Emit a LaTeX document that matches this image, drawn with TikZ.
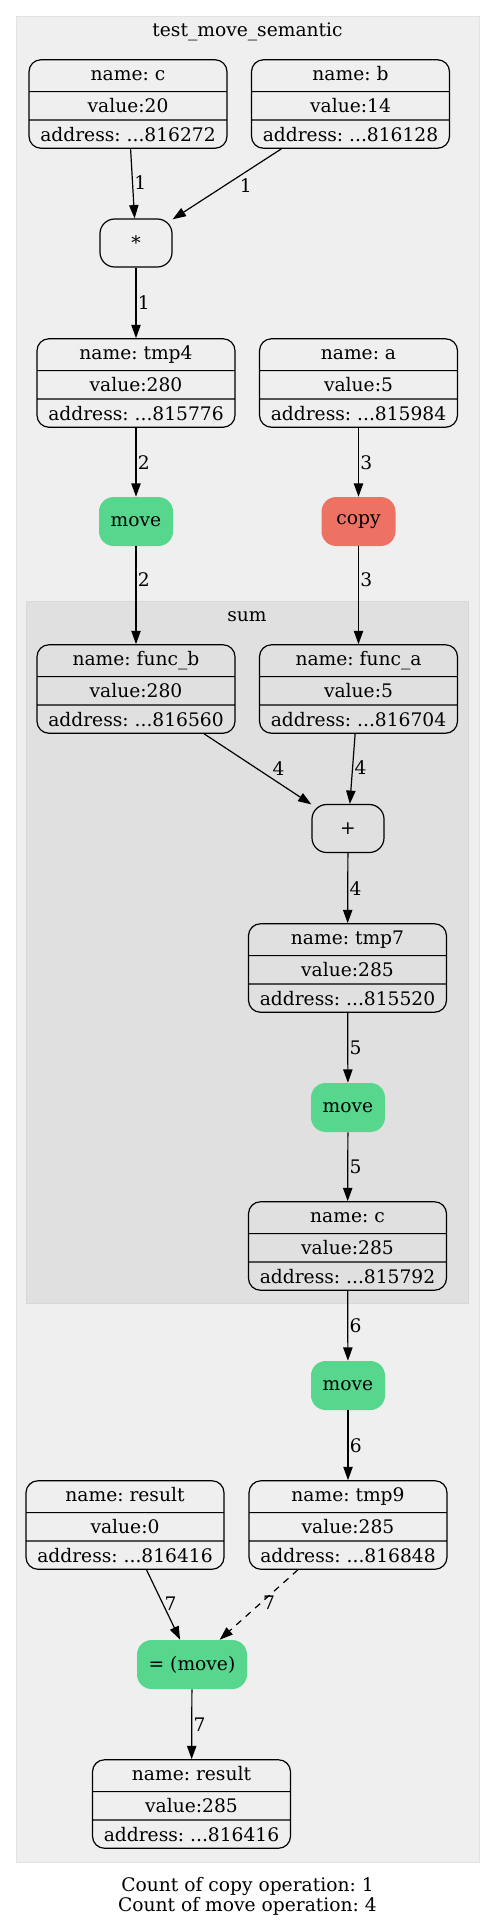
\documentclass[tikz,border=0pt]{standalone}
\usepackage{fontspec}
\setmainfont{DejaVu Serif}
\usetikzlibrary{shapes.multipart,arrows.meta}
\definecolor{outerbg}{HTML}{EFEFEF}
\definecolor{outerline}{HTML}{E2E2E2}
\definecolor{sumbg}{HTML}{E0E0E0}
\definecolor{sumline}{HTML}{D8D8D8}
\definecolor{movegreen}{HTML}{57D68D}
\definecolor{copyred}{HTML}{EE7264}
\frenchspacing

\begin{document}
\begin{tikzpicture}[x=0.75pt, y=-0.75pt,
  every node/.style={font=\fontsize{14pt}{16.8pt}\selectfont},
  varbox/.style={rectangle split, rectangle split parts=3, draw, line width=0.9pt,
    rounded corners=9pt, minimum width=148.5pt, text height=10.5pt, text depth=3pt, inner ysep=4.75pt},
  opbox/.style={draw, line width=0.9pt, rounded corners=11pt, minimum width=54pt, minimum height=36pt},
  movebox/.style={fill=movegreen, rounded corners=11pt, minimum width=55.5pt, minimum height=36.75pt},
  copybox/.style={movebox, fill=copyred},
  link/.style={-{Triangle[length=10pt,width=7pt]}, line width=0.9pt},
  lbl/.style={right, inner sep=1pt}]

\useasboundingbox (0,0) rectangle (495,1928);

% -------- clusters -----------
\filldraw[fill=outerbg, draw=outerline] (16,16) rectangle (479,1862);
\filldraw[fill=sumbg, draw=sumline] (26,601) rectangle (468,1303);
\node[anchor=base] (maintitle) at (247.5,36.5) {test\_move\_semantic};
\node[anchor=base] (sumtitle) at (247,621) {sum};

% -------- variables and operations -----------
\node[varbox] (c) at (128,104) {name: c \nodepart{two} value:20 \nodepart{three} address: ...816272};
\node[varbox] (b) at (350.5,104) {name: b \nodepart{two} value:14 \nodepart{three} address: ...816128};
\node[opbox] (mul) at (136,243) {*};
\node[varbox] (tmp4) at (136,383) {name: tmp4 \nodepart{two} value:280 \nodepart{three} address: ...815776};
\node[varbox] (a) at (358.5,383) {name: a \nodepart{two} value:5 \nodepart{three} address: ...815984};
\node[movebox] (mv1) at (136,521.5) {move};
\node[copybox] (cp) at (358.5,521.5) {copy};
\node[varbox] (funcb) at (136,689) {name: func\_b \nodepart{two} value:280 \nodepart{three} address: ...816560};
\node[varbox] (funca) at (358.5,689) {name: func\_a \nodepart{two} value:5 \nodepart{three} address: ...816704};
\node[opbox] (plus) at (348,828.5) {+};
\node[varbox] (tmp7) at (347.5,968) {name: tmp7 \nodepart{two} value:285 \nodepart{three} address: ...815520};
\node[movebox] (mv2) at (348,1107.5) {move};
\node[varbox] (c2) at (347.5,1246) {name: c \nodepart{two} value:285 \nodepart{three} address: ...815792};
\node[movebox] (mv3) at (348,1385.5) {move};
\node[varbox] (result) at (125,1525) {name: result \nodepart{two} value:0 \nodepart{three} address: ...816416};
\node[varbox] (tmp9) at (348,1525) {name: tmp9 \nodepart{two} value:285 \nodepart{three} address: ...816848};
\node[movebox, minimum width=82.5pt] (assign) at (192,1664.5) {= (move)};
\node[varbox] (result2) at (191.5,1804) {name: result \nodepart{two} value:285 \nodepart{three} address: ...816416};

% -------- edges -----------
\draw[link] (c) -- node[lbl, pos=0.48] {1} (mul);
\draw[link] (b) -- node[below right, inner sep=1pt, pos=0.4] {1} (mul);
\draw[link] (mul) -- node[lbl] {1} (tmp4);
\draw[link] (tmp4) -- node[lbl] {2} (mv1);
\draw[link] (mv1) -- node[lbl, pos=0.34] {2} (funcb);
\draw[link] (a) -- node[lbl] {3} (cp);
\draw[link] (cp) -- node[lbl, pos=0.34] {3} (funca);
\draw[link] (funcb) -- node[above right, inner sep=1pt, pos=0.62] {4} (plus);
\draw[link] (funca) -- node[lbl, pos=0.48] {4} (plus);
\draw[link] (plus) -- node[lbl] {4} (tmp7);
\draw[link] (tmp7) -- node[lbl] {5} (mv2);
\draw[link] (mv2) -- node[lbl] {5} (c2);
\draw[link] (c2) -- node[lbl] {6} (mv3);
\draw[link] (mv3) -- node[lbl] {6} (tmp9);
\draw[link] (result) -- node[lbl, pos=0.48] {7} (assign);
\draw[link, dash pattern=on 5pt off 4.5pt] (tmp9) -- node[lbl, pos=0.47] {7} (assign);
\draw[link] (assign) -- node[lbl] {7} (result2);

% -------- counts -----------
\node[align=center, font=\fontsize{14pt}{15pt}\selectfont] (counts) at (247.5,1896)
  {Count of copy operation: 1\\Count of move operation: 4};
\end{tikzpicture}
\end{document}
